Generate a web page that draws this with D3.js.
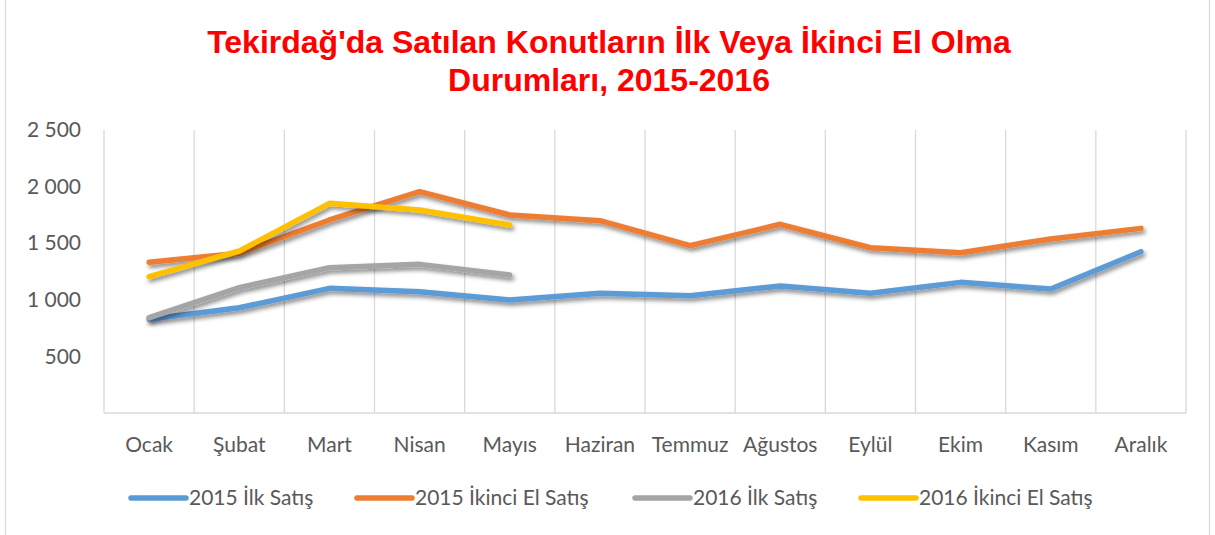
<!DOCTYPE html>
<html>
<head>
<meta charset="utf-8">
<script src="https://cdn.jsdelivr.net/npm/d3@7"></script>
<style>
  body { margin: 0; background: #fff; }
  svg { display: block; }
</style>
</head>
<body>
<div id="chart"></div>
<script>
// chart data
var months = ["Ocak", "Şubat", "Mart", "Nisan", "Mayıs", "Haziran", "Temmuz", "Ağustos", "Eylül", "Ekim", "Kasım", "Aralık"];
var ilk2015 = [828, 930, 1101, 1072, 998, 1057, 1036, 1122, 1057, 1154, 1095, 1425];
var ikinci2015 = [1331, 1411, 1705, 1955, 1749, 1699, 1478, 1667, 1460, 1416, 1537, 1631];
var ilk2016 = [842, 1107, 1284, 1313, 1219];
var ikinci2016 = [1204, 1431, 1852, 1793, 1661];
var seriesNames = ["2015 İlk Satış", "2015 İkinci El Satış", "2016 İlk Satış", "2016 İkinci El Satış"];
var seriesColors = ["#5B9BD5", "#ED7D31", "#A5A5A5", "#FFC000"];
var yTicks = [500, 1000, 1500, 2000, 2500];

var series = [ilk2015, ikinci2015, ilk2016, ikinci2016].map(function(vals, i) {
  return { name: seriesNames[i], color: seriesColors[i], values: vals };
});

var W = 1215, H = 535;
var margin = {top: 130, right: 29, bottom: 122, left: 104};
var width = W - margin.left - margin.right,
    height = H - margin.top - margin.bottom;

var svg = d3.select("#chart").append("svg")
    .attr("width", W)
    .attr("height", H);

// drop shadow like the office chart
var defs = svg.append("defs");
var f = defs.append("filter").attr("id", "shadow")
    .attr("x", "-10%").attr("y", "-30%").attr("width", "120%").attr("height", "160%");
f.append("feDropShadow")
    .attr("dx", 2).attr("dy", 3).attr("stdDeviation", 2.2)
    .attr("flood-color", "#000").attr("flood-opacity", 0.45);

// outer frame
svg.append("line").attr("x1", 5.5).attr("x2", 5.5).attr("y1", 0).attr("y2", H)
    .attr("stroke", "#d9d9d9").attr("stroke-width", 1.2);
svg.append("line").attr("x1", 1209.5).attr("x2", 1209.5).attr("y1", 0).attr("y2", H)
    .attr("stroke", "#d9d9d9").attr("stroke-width", 1.2);

// title
var title = svg.append("text")
    .attr("text-anchor", "middle")
    .style("font-family", "'Liberation Sans', Arial, sans-serif")
    .style("font-weight", "bold")
    .style("font-size", "32px")
    .attr("fill", "#FF0000");
title.append("tspan").attr("x", 609).attr("y", 53).text("Tekirdağ'da Satılan Konutların İlk Veya İkinci El Olma");
title.append("tspan").attr("x", 609).attr("y", 91).text("Durumları, 2015-2016");

var g = svg.append("g")
    .attr("transform", "translate(" + margin.left + "," + margin.top + ")");

var x = d3.scaleBand().domain(months).range([0, width]).padding(0);
var y = d3.scaleLinear().domain([0, 2500]).range([height, 0]);

// vertical gridlines at category boundaries
var bounds = months.map(function(m) { return x(m); }).concat([width]);
g.selectAll(".vgrid").data(bounds).enter().append("line")
    .attr("class", "vgrid")
    .attr("x1", function(d) { return d; })
    .attr("x2", function(d) { return d; })
    .attr("y1", 0).attr("y2", height)
    .attr("stroke", "#d9d9d9").attr("stroke-width", 1.3);

// bottom axis line
g.append("line").attr("x1", 0).attr("x2", width).attr("y1", height).attr("y2", height)
    .attr("stroke", "#d9d9d9").attr("stroke-width", 1.3);

var fontFam = "Lato, 'Open Sans', sans-serif";
var loc = d3.formatLocale({decimal: ",", thousands: " ", grouping: [3], currency: ["", ""]});

// Y axis
var yAxis = g.append("g")
    .call(d3.axisLeft(y).tickValues(yTicks).tickSize(0).tickPadding(23).tickFormat(loc.format(",")));
yAxis.select(".domain").remove();
yAxis.selectAll("text")
    .style("font-family", fontFam).style("font-size", "21px").attr("fill", "#595959");

// X axis
var xAxis = g.append("g")
    .attr("transform", "translate(0," + height + ")")
    .call(d3.axisBottom(x).tickSize(0).tickPadding(24));
xAxis.select(".domain").remove();
xAxis.selectAll("text")
    .style("font-family", fontFam).style("font-size", "21px").attr("fill", "#595959");

// lines
var line = d3.line()
    .x(function(d, i) { return x(months[i]) + x.bandwidth() / 2; })
    .y(function(d) { return y(d); });

g.selectAll(".series").data(series).enter().append("path")
    .attr("class", "series")
    .attr("d", function(d) { return line(d.values); })
    .attr("fill", "none")
    .attr("stroke", function(d) { return d.color; })
    .attr("stroke-width", 5.5)
    .attr("stroke-linecap", "round")
    .attr("stroke-linejoin", "round")
    .attr("filter", "url(#shadow)");

// legend
var legendX = [131, 357, 635, 861];
var leg = svg.selectAll(".leg").data(series).enter().append("g")
    .attr("class", "leg")
    .attr("transform", function(d, i) { return "translate(" + legendX[i] + ",498)"; });
leg.append("line")
    .attr("x1", 0).attr("x2", 55).attr("y1", 0).attr("y2", 0)
    .attr("stroke", function(d) { return d.color; })
    .attr("stroke-width", 5.5)
    .attr("stroke-linecap", "round");
leg.append("text")
    .attr("x", 58).attr("y", 0).attr("dy", "0.35em")
    .style("font-family", fontFam).style("font-size", "21px").attr("fill", "#595959")
    .text(function(d) { return d.name; });
</script>
</body>
</html>
